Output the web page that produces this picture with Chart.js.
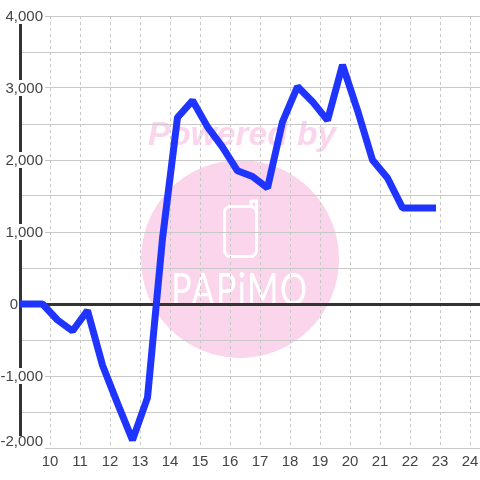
<!DOCTYPE html>
<html>
<head>
<meta charset="utf-8">
<style>
html, body { margin: 0; padding: 0; background: #fff; }
#wrap { width: 480px; height: 480px; }
</style>
<script src="https://cdn.jsdelivr.net/npm/chart.js@4/dist/chart.umd.js"></script>
</head>
<body>
<div id="wrap"><canvas id="chart" width="480" height="480"></canvas></div>
<script>
// half hour readings
var hours = [8.75, 9.25, 9.75, 10.25, 10.75, 11.25, 11.75, 12.25, 12.75, 13.25, 13.75, 14.25, 14.75, 15.25, 15.75,
	16.25, 16.75, 17.25, 17.75, 18.25, 18.75, 19.25, 19.75, 20.25, 20.75, 21.25, 21.75, 22.25, 22.75];
var profit = [0, 0, 0, -222, -375, -90, -850, -1380, -1890, -1300, 910, 2590, 2825, 2460, 2180,
	1850, 1770, 1610, 2530, 3020, 2810, 2550, 3320, 2690, 2000, 1750, 1335, 1335, 1335];
var hourTicks = [10, 11, 12, 13, 14, 15, 16, 17, 18, 19, 20, 21, 22, 23, 24];
var valueTicks = [-2000, -1500, -1000, -500, 0, 500, 1000, 1500, 2000, 2500, 3000, 3500, 4000];

var FONT = '"Liberation Sans", Arial, sans-serif';
var PINK = '#fbd5ec';

// Watermark goes under the grid
var watermark = {
	id: 'watermark',
	beforeDraw: function(chart) {
		var ctx = chart.ctx;
		ctx.save();
		ctx.fillStyle = '#fff';
		ctx.fillRect(0, 0, 480, 480);

		ctx.fillStyle = PINK;
		ctx.font = 'italic bold 33.5px ' + FONT;
		ctx.textAlign = 'left';
		ctx.textBaseline = 'alphabetic';
		ctx.fillText('Powered by', 148, 145);

		ctx.beginPath();
		ctx.arc(240, 259, 99, 0, Math.PI * 2);
		ctx.fill();

		// phone
		ctx.strokeStyle = '#fff';
		ctx.lineWidth = 3;
		ctx.lineJoin = 'round';
		ctx.beginPath();
		ctx.roundRect(224.5, 206.5, 32, 50, 6);
		ctx.stroke();
		ctx.beginPath();
		ctx.moveTo(251, 206);
		ctx.lineTo(251, 201);
		ctx.lineTo(256.5, 201);
		ctx.lineTo(256.5, 212);
		ctx.stroke();

		ctx.fillStyle = '#fff';
		ctx.font = '44px Lato, sans-serif';
		ctx.letterSpacing = '2px';
		ctx.textAlign = 'center';
		ctx.translate(240, 305);
		ctx.scale(0.77, 1);
		ctx.fillText('PAPiMO', 0, 0);
		ctx.restore();
	}
};

// Nudge the value labels: all down a pixel, the bottom one up off the edge
function shiftValueLabels(axis) {
	if (axis._labelsShifted) return;
	axis._labelsShifted = true;
	var compute = axis._computeLabelItems;
	axis._computeLabelItems = function(area) {
		var items = compute.call(axis, area);
		items.forEach(function(item) {
			item.textOffset += 1;
			if (item.label === '-2,000') {
				item.options.translation[1] -= 7;
				item.options.backdrop.top += 3;
				item.options.backdrop.height -= 3;
			}
		});
		return items;
	};
	// labels run past the axis box, so no clipping to it
	axis._computeLabelArea = function() { return undefined; };
}

new Chart(document.getElementById('chart'), {
	type: 'line',
	data: {
		datasets: [{
			data: hours.map(function(h, i) { return { x: h, y: profit[i] }; }),
			borderColor: '#1f35ff',
			borderWidth: 7,
			borderJoinStyle: 'bevel',
			borderCapStyle: 'square',
			pointRadius: 0,
			tension: 0
		}]
	},
	plugins: [watermark],
	options: {
		responsive: false,
		animation: false,
		layout: { padding: { top: 16, left: 0, right: 0, bottom: 0 } },
		plugins: { legend: { display: false }, tooltip: { enabled: false } },
		scales: {
			x: {
				type: 'linear',
				min: 9,
				max: 24.3333,
				afterBuildTicks: function(axis) {
					axis.ticks = hourTicks.map(function(v) { return { value: v }; });
				},
				afterFit: function(axis) {
					axis.height = 32;
					axis.paddingLeft = 0;
					axis.paddingRight = 0;
				},
				border: { display: false, dash: [3, 3] },
				grid: { color: '#c8c8c8', lineWidth: 1, drawTicks: false, z: -1 },
				ticks: {
					autoSkip: false,
					maxRotation: 0,
					padding: 5,
					color: '#444',
					font: { family: FONT, size: 15 },
					callback: function(v) { return String(v); }
				}
			},
			y: {
				min: -2000,
				max: 4000,
				afterBuildTicks: function(axis) {
					axis.ticks = valueTicks.map(function(v) { return { value: v }; });
				},
				afterFit: function(axis) {
					axis.width = 20;
					shiftValueLabels(axis);
				},
				border: { color: '#333', width: 3 },
				grid: {
					z: -1,
					drawTicks: false,
					color: function(c) { return c.tick && c.tick.value === 0 ? '#333' : '#c8c8c8'; },
					lineWidth: function(c) { return c.tick && c.tick.value === 0 ? 3 : 1; }
				},
				ticks: {
					autoSkip: false,
					padding: -23,
					color: '#444',
					// labels sit inside the plot on a white box
					showLabelBackdrop: function(c) { return c.tick.value % 1000 === 0 && c.tick.value !== 0; },
					backdropColor: '#fff',
					backdropPadding: { left: 1, right: 2, top: -1, bottom: -1 },
					font: { family: FONT, size: 15 },
					callback: function(v) {
						if (v % 1000 !== 0) return '';
						if (v === 0) return '0\u00A0\u00A0\u00A0\u00A0\u00A0\u00A0';
						return v.toLocaleString('en-US');
					}
				}
			}
		}
	}
});
</script>
</body>
</html>
